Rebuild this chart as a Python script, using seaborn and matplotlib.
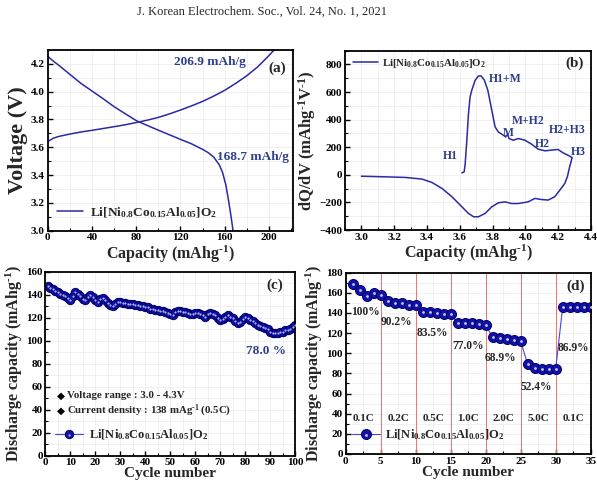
import numpy as np
import pandas as pd
import matplotlib
matplotlib.use("Agg")
import matplotlib.pyplot as plt
import seaborn as sns
from matplotlib.ticker import MultipleLocator

# ---------------- data ----------------
# (a) charge / discharge voltage profiles
charge_cap = [0, 5, 10, 20, 30, 40, 50, 60, 70, 80, 90, 100, 110, 120, 130, 140,
              150, 160, 170, 180, 190, 200, 206.9]
charge_v = [3.640, 3.665, 3.678, 3.695, 3.710, 3.722, 3.735, 3.748, 3.762, 3.778,
            3.795, 3.815, 3.840, 3.868, 3.898, 3.930, 3.968, 4.010, 4.060, 4.115,
            4.180, 4.260, 4.320]
dis_cap = [0, 5, 10, 20, 30, 40, 50, 60, 70, 80, 90, 100, 110, 120, 130, 140, 145,
           150, 155, 158, 161, 163, 165, 166.5, 167.5]
dis_v = [4.255, 4.220, 4.190, 4.125, 4.060, 4.005, 3.950, 3.892, 3.842, 3.792,
         3.757, 3.723, 3.690, 3.657, 3.625, 3.585, 3.562, 3.530, 3.475, 3.420,
         3.330, 3.240, 3.140, 3.060, 3.000]

# (b) dQ/dV loop (charge branch then discharge branch)
dqdv_v = [3.613, 3.627, 3.633, 3.643, 3.653, 3.663, 3.673, 3.694, 3.714, 3.730,
          3.750, 3.771, 3.795, 3.815, 3.835, 3.866, 3.880, 3.892, 3.900, 3.926,
          3.957, 3.997, 4.038, 4.078, 4.119, 4.159, 4.199, 4.230, 4.260, 4.285,
          4.270, 4.256, 4.240, 4.210, 4.179, 4.139, 4.098, 4.058, 4.017, 3.957,
          3.916, 3.876, 3.835, 3.795, 3.754, 3.714, 3.684, 3.653, 3.613, 3.552,
          3.492, 3.431, 3.370, 3.269, 3.127, 3.000]
dqdv_val = [14, 22, 82, 251, 444, 565, 613, 686, 717, 717,
            686, 613, 469, 348, 311, 287, 275, 295, 263, 251,
            263, 251, 222, 186, 174, 179, 184, 159, 142, 125,
            58, -14, -63, -111, -159, -183, -179, -171, -196, -208,
            -208, -196, -203, -232, -280, -304, -304, -280, -232, -159,
            -99, -56, -31, -19, -14, -10]

# (c) cycle life at 0.5C
cycles_c = list(range(1, 101))
cap_c = [148, 146, 145, 143, 142, 141, 140, 139, 137, 135,
         139, 142, 141, 139, 136, 135, 138, 140, 138, 135,
         134, 136, 137, 135, 133, 131, 130, 132, 134, 134,
         133, 133, 132, 132, 132, 131, 131, 130, 130, 129,
         129, 128, 128, 127, 127, 126, 126, 125, 124, 123,
         122, 125, 126, 126, 125, 125, 124, 123, 123, 124,
         124, 123, 122, 121, 123, 124, 123, 122, 120, 118,
         119, 121, 122, 121, 120, 117, 115, 116, 119, 121,
         120, 118, 117, 115, 114, 113, 112, 111, 110, 108,
         107, 107, 107, 108, 108, 109, 109, 110, 112, 114]

# (d) rate capability
cycles_d = list(range(1, 36))
cap_d = [169, 163, 157, 160, 158, 152, 150, 150, 148, 148,
         141, 141, 140, 139, 139, 130, 130, 130, 129, 128,
         116, 115, 114, 113, 112, 89, 85, 84, 84, 84,
         146, 146, 146, 146, 146]
rate_labels = ["0.1C", "0.2C", "0.5C", "1.0C", "2.0C", "5.0C", "0.1C"]
rate_x = [2.5, 7.5, 12.5, 17.5, 22.5, 27.5, 32.5]
pct_labels = ["100%", "90.2%", "83.5%", "77.0%", "68.9%", "52.4%", "86.9%"]
pct_x = [2.8, 7.3, 12.4, 17.5, 22.1, 27.3, 32.5]
pct_y = [141, 131, 120.5, 107.7, 95, 66.8, 105.6]
rate_bounds = [5, 10, 15, 20, 25, 30]

phase_labels = ["H1+M", "M+H2", "M", "H2+H3", "H2", "H3", "H1"]
phase_x = [3.876, 4.018, 3.896, 4.253, 4.101, 4.321, 3.542]
phase_y = [691, 391, 304, 324, 227, 162, 135]

condition_lines = ["Voltage range : 3.0 - 4.3V",
                   "Current density : 138 mAg$^{‐1}$ (0.5C)"]
condition_y = [52.2, 39.1]

compound = r"Li[Ni$_{0.8}$Co$_{0.15}$Al$_{0.05}$]O$_2$"
cap_label = "Capacity (mAhg$^{‐1}$)"

# ---------------- style ----------------
sns.set_theme(style="ticks")
plt.rcParams.update({
    "font.family": ["Liberation Serif", "DejaVu Sans"],
    "font.weight": "bold",
    "axes.labelweight": "bold",
    "mathtext.fontset": "custom",
    "mathtext.rm": "Liberation Serif:bold",
    "mathtext.it": "Liberation Serif:italic:bold",
    "mathtext.bf": "Liberation Serif:bold",
    "mathtext.default": "regular",
    "axes.edgecolor": "black",
    "axes.linewidth": 1.3,
    "xtick.direction": "in",
    "ytick.direction": "in",
    "xtick.color": "black",
    "ytick.color": "black",
    "xtick.labelsize": 8,
    "ytick.labelsize": 8,
})

LINE = "#2a2aa2"
ANN = "#2c3e8c"
MFC = "#1212a8"
MEC = "#00006a"

fig = plt.figure(figsize=(5.97, 4.90), dpi=100)
axa = fig.add_axes([0.0799, 0.5292, 0.4114, 0.3688])
axb = fig.add_axes([0.5779, 0.5306, 0.4120, 0.3660])
axc = fig.add_axes([0.0762, 0.0700, 0.4180, 0.3755])
axd = fig.add_axes([0.5790, 0.0735, 0.4104, 0.3700])

fig.text(0.439, 0.9755, "J. Korean Electrochem. Soc., Vol. 24, No. 1, 2021",
         ha="center", va="center", fontsize=9, fontweight="normal",
         family="Liberation Serif")


def style_axes(ax, xmaj, xmin, ymaj, ymin):
    ax.xaxis.set_major_locator(MultipleLocator(xmaj))
    ax.xaxis.set_minor_locator(MultipleLocator(xmin))
    ax.yaxis.set_major_locator(MultipleLocator(ymaj))
    ax.yaxis.set_minor_locator(MultipleLocator(ymin))
    ax.tick_params(which="major", length=3.5, width=1.0, pad=2)
    ax.tick_params(which="minor", length=2, width=0.8)
    ax.grid(True, which="both", color="#ececec", lw=0.5, zorder=0)
    ax.set_axisbelow(True)
    for s in ax.spines.values():
        s.set_linewidth(1.3)
        s.set_color("black")


# ---------------- (a) ----------------
dfa_c = pd.DataFrame({"cap": charge_cap, "v": charge_v})
dfa_d = pd.DataFrame({"cap": dis_cap, "v": dis_v})
sns.lineplot(data=dfa_c, x="cap", y="v", sort=False, estimator=None, ax=axa,
             color=LINE, lw=1.1)
sns.lineplot(data=dfa_d, x="cap", y="v", sort=False, estimator=None, ax=axa,
             color=LINE, lw=1.1)
axa.set_xlim(0, 222)
axa.set_ylim(3.0, 4.3)
style_axes(axa, 40, 20, 0.2, 0.1)
axa.set_xlabel(cap_label, fontsize=11.5, labelpad=1)
axa.set_ylabel("Voltage (V)", fontsize=16, labelpad=2)
axa.text(146.5, 4.214, "206.9 mAh/g", color=ANN, fontsize=9.5, ha="center", va="center")
axa.text(185.3, 3.531, "168.7 mAh/g", color=ANN, fontsize=9.5, ha="center", va="center")
axa.text(207.8, 4.166, "(a)", fontsize=11, ha="center", va="center")
axa.legend(handles=[axa.lines[0]], labels=[compound], loc="center left",
           bbox_to_anchor=(0.037, 0.10), frameon=False, fontsize=9.6,
           handlelength=2.0, handletextpad=0.5, borderpad=0, borderaxespad=0)

# ---------------- (b) ----------------
dfb = pd.DataFrame({"v": dqdv_v, "dq": dqdv_val})
sns.lineplot(data=dfb, x="v", y="dq", sort=False, estimator=None, ax=axb,
             color=LINE, lw=1.1)
axb.set_xlim(2.9, 4.4)
axb.set_ylim(-400, 900)
style_axes(axb, 0.2, 0.1, 200, 100)
axb.set_xlabel(cap_label, fontsize=11.5, labelpad=1)
axb.set_ylabel("dQ/dV (mAhg$^{‐1}$V$^{‐1}$)", fontsize=12, labelpad=1)
for lab, x, y in zip(phase_labels, phase_x, phase_y):
    axb.text(x, y, lab, color=ANN, fontsize=8.5, ha="center", va="center")
axb.text(4.30, 807, "(b)", fontsize=11, ha="center", va="center")
axb.legend(handles=[axb.lines[0]], labels=[compound], loc="center left",
           bbox_to_anchor=(0.0325, 0.93), frameon=False, fontsize=7.8,
           handlelength=2.3, handletextpad=0.35, borderpad=0, borderaxespad=0)

# ---------------- (c) ----------------
dfc = pd.DataFrame({"cycle": cycles_c, "cap": cap_c})
sns.lineplot(data=dfc, x="cycle", y="cap", ax=axc, color="#4848d8", lw=0.8,
             marker="o", markersize=6, markerfacecolor=MFC, markeredgecolor=MEC,
             markeredgewidth=0.7)
line_c = axc.lines[-1]
hl_c = axc.scatter(dfc["cycle"], dfc["cap"], s=2.5, color="#b0b0ff", lw=0, zorder=5)
axc.set_xlim(0, 100)
axc.set_ylim(0, 160)
style_axes(axc, 10, 5, 20, 10)
axc.set_xlabel("Cycle number", fontsize=11, labelpad=0)
axc.set_ylabel("Discharge capacity (mAhg$^{‐1}$)", fontsize=11.5, labelpad=1)
for line_txt, y in zip(condition_lines, condition_y):
    axc.text(4.6, y, "◆", fontsize=7.5, ha="left", va="center", family="DejaVu Sans",
             color="black")
    axc.text(8.8, y, line_txt, fontsize=7.8, ha="left", va="center")
axc.text(88.4, 91.3, "78.0 %", color=ANN, fontsize=9.5, ha="center", va="center")
axc.text(92, 148.4, "(c)", fontsize=11, ha="center", va="center")
axc.legend(handles=[(line_c, hl_c)], labels=[compound], loc="center left",
           bbox_to_anchor=(0.04, 0.1125), frameon=False, fontsize=9,
           handlelength=2.24, handletextpad=0.45, borderpad=0, borderaxespad=0)

# ---------------- (d) ----------------
for xb in rate_bounds:
    axd.axvline(xb, color="#f27070", lw=0.7, zorder=1)
dfd = pd.DataFrame({"cycle": cycles_d, "cap": cap_d})
sns.lineplot(data=dfd, x="cycle", y="cap", ax=axd, color="#4848d8", lw=0.8,
             marker="o", markersize=7.2, markerfacecolor=MFC, markeredgecolor=MEC,
             markeredgewidth=0.7)
line_d = axd.lines[-1]
hl_d = axd.scatter(dfd["cycle"], dfd["cap"], s=4, color="#c8c8ff", lw=0, zorder=5)
axd.set_xlim(0, 35)
axd.set_ylim(0, 180)
style_axes(axd, 5, 2.5, 20, 10)
axd.set_xlabel("Cycle number", fontsize=11, labelpad=0)
axd.set_ylabel("Discharge capacity (mAhg$^{‐1}$)", fontsize=11.5, labelpad=1)
for lab, x in zip(rate_labels, rate_x):
    axd.text(x, 35.5, lab, fontsize=8, ha="center", va="center")
for lab, x, y in zip(pct_labels, pct_x, pct_y):
    axd.text(x, y, lab, fontsize=8.3, ha="center", va="center")
axd.text(32.8, 167, "(d)", fontsize=11, ha="center", va="center")
axd.legend(handles=[(line_d, hl_d)], labels=[compound], loc="center left",
           bbox_to_anchor=(0.026, 0.105), frameon=False, fontsize=9,
           handlelength=2.24, handletextpad=0.4, borderpad=0, borderaxespad=0)

fig.savefig("out.png", dpi=100)
